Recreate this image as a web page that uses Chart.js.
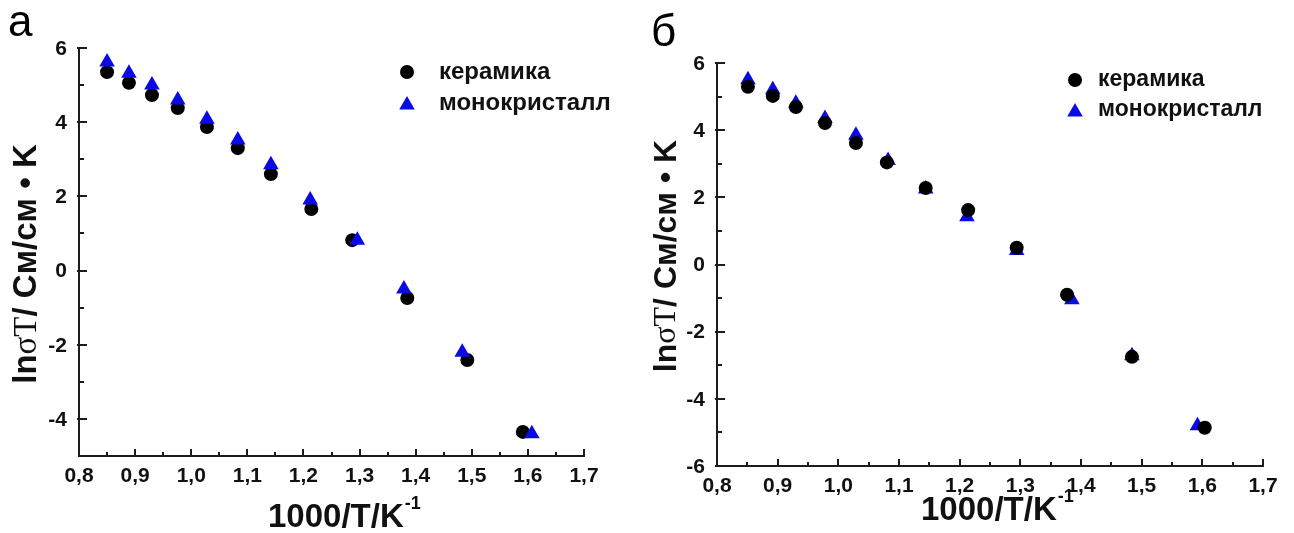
<!DOCTYPE html>
<html>
<head>
<meta charset="utf-8">
<script src="https://cdn.jsdelivr.net/npm/chart.js@4.4.1/dist/chart.umd.min.js"></script>
<style>
  html, body { margin: 0; padding: 0; background: #fff; }
  #wrap { position: relative; width: 1294px; height: 533px; overflow: hidden; }
  canvas { position: absolute; top: 0; }
</style>
</head>
<body>
<div id="wrap">
  <canvas id="ca" width="640" height="533" style="left:0px"></canvas>
  <canvas id="cb" width="654" height="533" style="left:640px"></canvas>
</div>
<script>
// ---------- data ----------
const seriesNames = ['керамика', 'монокристалл'];

// panel а
const aCeramicX = [0.850, 0.889, 0.930, 0.976, 1.028, 1.083, 1.142, 1.214, 1.287, 1.385, 1.492, 1.591];
const aCeramicY = [5.35, 5.06, 4.73, 4.38, 3.87, 3.30, 2.60, 1.66, 0.82, -0.74, -2.41, -4.35];
const aCrystalX = [0.850, 0.889, 0.930, 0.976, 1.028, 1.083, 1.142, 1.212, 1.296, 1.379, 1.483, 1.607];
const aCrystalY = [5.62, 5.32, 5.00, 4.60, 4.08, 3.52, 2.85, 1.90, 0.82, -0.50, -2.20, -4.40];

// panel б
const bCeramicX = [0.851, 0.892, 0.930, 0.978, 1.029, 1.080, 1.144, 1.214, 1.294, 1.377, 1.484, 1.604];
const bCeramicY = [5.29, 5.02, 4.69, 4.21, 3.62, 3.04, 2.28, 1.62, 0.50, -0.90, -2.75, -4.86];
const bCrystalX = [0.851, 0.892, 0.930, 0.978, 1.029, 1.082, 1.144, 1.212, 1.294, 1.385, 1.484, 1.592];
const bCrystalY = [5.50, 5.20, 4.80, 4.35, 3.85, 3.10, 2.25, 1.42, 0.42, -1.05, -2.72, -4.80];

// ticks
const xTickValues = [0.8, 0.9, 1.0, 1.1, 1.2, 1.3, 1.4, 1.5, 1.6, 1.7];
const xTickLabels = ['0,8', '0,9', '1,0', '1,1', '1,2', '1,3', '1,4', '1,5', '1,6', '1,7'];
const xMinorValues = [0.85, 0.95, 1.05, 1.15, 1.25, 1.35, 1.45, 1.55, 1.65];
const aYTickValues = [-4, -2, 0, 2, 4, 6];
const aYTickLabels = ['-4', '-2', '0', '2', '4', '6'];
const aYMinorValues = [-5, -3, -1, 1, 3, 5];
const bYTickValues = [-6, -4, -2, 0, 2, 4, 6];
const bYTickLabels = ['-6', '-4', '-2', '0', '2', '4', '6'];
const bYMinorValues = [-5, -3, -1, 1, 3, 5];

const panelLetters = ['а', 'б'];
const xTitleMain = '1000/T/K';
const xTitleSup = '-1';
const yTitleParts = ['ln', 'σT', '/ См/см • K'];

// ---------- styles ----------
const CER_COLOR = '#000000';
const CRY_COLOR = '#0a0ae6';
const AXIS_COLOR = '#1c1c1c';
const SANS = '"Liberation Sans", Arial, sans-serif';
const SERIF = '"Liberation Serif", "Times New Roman", serif';

function pts(xs, ys) { return xs.map((x, i) => ({ x: x, y: ys[i] })); }

function drawCircle(ctx, x, y, r, color) {
  ctx.beginPath(); ctx.arc(x, y, r, 0, Math.PI * 2); ctx.fillStyle = color; ctx.fill();
}
function drawTriangle(ctx, x, y, r, color) {
  ctx.beginPath();
  ctx.moveTo(x, y - r);
  ctx.lineTo(x + r * Math.sin(2 * Math.PI / 3), y + r / 2);
  ctx.lineTo(x - r * Math.sin(2 * Math.PI / 3), y + r / 2);
  ctx.closePath(); ctx.fillStyle = color; ctx.fill();
}

function makePlugin(cfg) {
  return {
    id: 'decor' + cfg.id,
    beforeDatasetsDraw(chart) {
      const ctx = chart.ctx, xs = chart.scales.x, ys = chart.scales.y, ca = chart.chartArea;
      ctx.save();
      ctx.strokeStyle = AXIS_COLOR;
      ctx.lineWidth = 2;
      ctx.lineCap = 'butt';
      ctx.beginPath();
      ctx.moveTo(ca.left, ca.top - 1);
      ctx.lineTo(ca.left, ca.bottom);
      ctx.lineTo(ca.right + 1, ca.bottom);
      ctx.stroke();
      ctx.beginPath();
      xTickValues.forEach(v => { const p = Math.round(xs.getPixelForValue(v)); ctx.moveTo(p, ca.bottom); ctx.lineTo(p, ca.bottom - 7); });
      xMinorValues.forEach(v => { const p = Math.round(xs.getPixelForValue(v)); ctx.moveTo(p, ca.bottom); ctx.lineTo(p, ca.bottom - 4); });
      cfg.yTicks.forEach(v => { const p = Math.round(ys.getPixelForValue(v)); ctx.moveTo(ca.left - 2, p); ctx.lineTo(ca.left + 8, p); });
      cfg.yMinor.forEach(v => { const p = Math.round(ys.getPixelForValue(v)); ctx.moveTo(ca.left, p); ctx.lineTo(ca.left + 5, p); });
      ctx.stroke();
      ctx.restore();
    },
    afterDraw(chart) {
      const ctx = chart.ctx, xs = chart.scales.x, ys = chart.scales.y, ca = chart.chartArea;
      ctx.save();
      ctx.fillStyle = '#111';
      // tick labels
      ctx.font = 'bold 21px ' + SANS;
      ctx.textAlign = 'center'; ctx.textBaseline = 'middle';
      xTickValues.forEach((v, i) => ctx.fillText(xTickLabels[i], xs.getPixelForValue(v), ca.bottom + 20));
      ctx.textAlign = 'right';
      cfg.yTicks.forEach((v, i) => ctx.fillText(cfg.yLabels[i], ca.left - 12, ys.getPixelForValue(v) + 1));
      // x title
      ctx.textAlign = 'left'; ctx.textBaseline = 'alphabetic';
      ctx.font = 'bold 33px ' + SANS;
      ctx.fillText(xTitleMain, cfg.xTitleX, cfg.xTitleY);
      const wMain = ctx.measureText(xTitleMain).width;
      ctx.font = 'bold 18px ' + SANS;
      ctx.fillText(xTitleSup, cfg.xTitleX + wMain + 1, cfg.xTitleY - 18);
      // y title (rotated)
      const fs = cfg.yTitleSize;
      const fonts = ['bold ' + fs + 'px ' + SANS, fs + 'px ' + SERIF, 'bold ' + fs + 'px ' + SANS];
      let total = 0;
      const widths = yTitleParts.map((t, i) => { ctx.font = fonts[i]; const w = ctx.measureText(t).width; total += w; return w; });
      ctx.translate(cfg.yTitleX, cfg.yTitleY);
      ctx.rotate(-Math.PI / 2);
      ctx.textBaseline = 'middle';
      let off = -total / 2;
      yTitleParts.forEach((t, i) => { ctx.font = fonts[i]; ctx.fillText(t, off, 0); off += widths[i]; });
      ctx.setTransform(1, 0, 0, 1, 0, 0);
      // panel letter
      ctx.font = '44px ' + SANS;
      ctx.textAlign = 'left'; ctx.textBaseline = 'alphabetic';
      ctx.fillStyle = '#000';
      ctx.fillText(cfg.letter, cfg.letterX, cfg.letterY);
      // legend
      const ds = chart.data.datasets;
      ctx.font = 'bold ' + cfg.legSize + 'px ' + SANS;
      ctx.textBaseline = 'middle';
      drawCircle(ctx, cfg.legX, cfg.legY, ds[0].pointRadius, ds[0].backgroundColor);
      drawTriangle(ctx, cfg.legX, cfg.legY + cfg.legGap + 2, ds[1].pointRadius, ds[1].backgroundColor);
      ctx.fillStyle = '#111';
      ctx.fillText(ds[0].label, cfg.legTextX, cfg.legY);
      ctx.fillText(ds[1].label, cfg.legTextX, cfg.legY + cfg.legGap);
      ctx.restore();
    }
  };
}

function makeChart(id, cerX, cerY, cryX, cryY, cfg) {
  return new Chart(document.getElementById(id), {
    type: 'scatter',
    data: {
      datasets: [
        { label: seriesNames[0], data: pts(cerX, cerY), pointStyle: 'circle', pointRadius: 7, pointHoverRadius: 7,
          backgroundColor: CER_COLOR, borderColor: CER_COLOR, borderWidth: 0, order: cfg.cerOrder, clip: false },
        { label: seriesNames[1], data: pts(cryX, cryY), pointStyle: 'triangle', pointRadius: 9, pointHoverRadius: 9,
          backgroundColor: CRY_COLOR, borderColor: CRY_COLOR, borderWidth: 0, order: cfg.cryOrder, clip: false }
      ]
    },
    options: {
      responsive: false,
      animation: false,
      events: [],
      layout: { padding: { left: 0, top: cfg.padTop, right: cfg.padRight, bottom: 0 } },
      plugins: { legend: { display: false }, tooltip: { enabled: false }, title: { display: false } },
      scales: {
        x: { type: 'linear', min: 0.8, max: 1.7, grid: { display: false }, border: { display: false },
             ticks: { display: false }, afterFit: s => { s.height = cfg.xHeight; } },
        y: { type: 'linear', min: cfg.yMin, max: cfg.yMax, grid: { display: false }, border: { display: false },
             ticks: { display: false }, afterFit: s => { s.width = cfg.yWidth; } }
      }
    },
    plugins: [makePlugin(cfg)]
  });
}

makeChart('ca', aCeramicX, aCeramicY, aCrystalX, aCrystalY, {
  id: 'a', yMin: -5, yMax: 6, padTop: 48, padRight: 56, xHeight: 77, yWidth: 79,
  yTicks: aYTickValues, yLabels: aYTickLabels, yMinor: aYMinorValues,
  cerOrder: 2, cryOrder: 1,
  xTitleX: 268, xTitleY: 527, yTitleX: 27, yTitleY: 264, yTitleSize: 33,
  letter: panelLetters[0], letterX: 8, letterY: 36,
  legX: 407, legY: 72, legGap: 31, legTextX: 439, legSize: 24
});

makeChart('cb', bCeramicX, bCeramicY, bCrystalX, bCrystalY, {
  id: 'b', yMin: -6, yMax: 6, padTop: 63, padRight: 31, xHeight: 67, yWidth: 77,
  yTicks: bYTickValues, yLabels: bYTickLabels, yMinor: bYMinorValues,
  cerOrder: 1, cryOrder: 2,
  xTitleX: 281, xTitleY: 520, yTitleX: 27, yTitleY: 256, yTitleSize: 32,
  letter: panelLetters[1], letterX: 11, letterY: 46,
  legX: 435, legY: 80, legGap: 30, legTextX: 458, legSize: 23
});
</script>
</body>
</html>
